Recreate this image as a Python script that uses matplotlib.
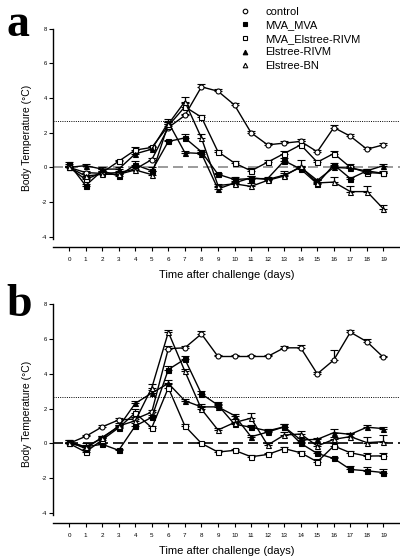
import matplotlib
matplotlib.use("Agg")
import matplotlib.pyplot as plt
from matplotlib.lines import Line2D

days = list(range(20))
day_labels = [str(d) for d in days]
yticks = [-4, -2, 0, 2, 4, 6, 8]
threshold = 2.65

series_names = ["control", "MVA_MVA", "MVA_Elstree-RIVM", "Elstree-RIVM", "Elstree-BN"]

# Panel a
a_control = [0.0, -0.3, -0.35, -0.3, -0.1, 0.45, 2.3, 3.0, 4.65, 4.4, 3.6, 2.0, 1.3, 1.4, 1.5, 0.9, 2.3, 1.8, 1.05, 1.3]
a_mva_mva = [0.2, -1.05, -0.2, -0.5, 0.15, -0.2, 1.5, 1.7, 0.9, -0.4, -0.7, -0.65, -0.65, 0.38, -0.1, -0.95, 0.15, -0.65, -0.2, -0.35]
a_mva_elstree = [0.0, -0.7, -0.3, 0.35, 1.0, 1.15, 2.4, 3.5, 2.9, 0.9, 0.25, -0.2, 0.3, 0.8, 1.3, 0.3, 0.8, 0.0, -0.3, -0.35]
a_elstree_rivm = [0.0, 0.1, -0.1, -0.1, 0.78, 1.05, 2.6, 0.85, 0.8, -1.25, -0.9, -0.6, -0.7, -0.45, 0.0, -0.75, 0.0, -0.05, -0.2, 0.1]
a_elstree_bn = [0.0, -0.5, -0.4, -0.4, -0.15, -0.42, 2.5, 3.8, 1.7, -1.05, -0.95, -1.1, -0.75, -0.5, 0.05, -0.9, -0.85, -1.4, -1.4, -2.4]

a_control_err = [0.05, 0.1, 0.1, 0.1, 0.1, 0.1, 0.2, 0.1, 0.15, 0.1, 0.1, 0.1, 0.1, 0.1, 0.15, 0.1, 0.15, 0.1, 0.1, 0.1]
a_mva_mva_err = [0.1, 0.1, 0.1, 0.1, 0.2, 0.2, 0.1, 0.2, 0.1, 0.1, 0.15, 0.15, 0.1, 0.15, 0.1, 0.1, 0.1, 0.1, 0.1, 0.15]
a_mva_elstree_err = [0.05, 0.1, 0.1, 0.1, 0.15, 0.1, 0.2, 0.2, 0.1, 0.1, 0.1, 0.15, 0.1, 0.15, 0.2, 0.1, 0.15, 0.2, 0.1, 0.1]
a_elstree_rivm_err = [0.1, 0.1, 0.1, 0.1, 0.1, 0.1, 0.2, 0.1, 0.1, 0.1, 0.1, 0.1, 0.1, 0.1, 0.1, 0.1, 0.1, 0.1, 0.1, 0.1]
a_elstree_bn_err = [0.05, 0.2, 0.15, 0.15, 0.15, 0.2, 0.2, 0.25, 0.2, 0.1, 0.1, 0.2, 0.1, 0.3, 0.4, 0.15, 0.3, 0.3, 0.3, 0.25]

# Panel b
b_control = [0.0, 0.4, 0.95, 1.35, 1.4, 1.8, 5.45, 5.5, 6.3, 5.0, 5.0, 5.0, 5.0, 5.5, 5.5, 4.0, 4.8, 6.4, 5.85, 4.95]
b_mva_mva = [0.1, -0.2, -0.05, -0.4, 1.0, 1.5, 4.25, 4.85, 2.85, 2.2, 1.1, 0.93, 0.72, 0.95, 0.0, -0.58, -0.87, -1.5, -1.58, -1.68]
b_mva_elstree = [0.0, -0.5, 0.2, 0.9, 1.75, 0.9, 3.2, 1.0, 0.0, -0.5, -0.4, -0.77, -0.64, -0.3, -0.54, -1.06, -0.15, -0.54, -0.73, -0.72]
b_elstree_rivm = [0.1, -0.3, 0.35, 0.95, 2.3, 2.9, 3.45, 2.45, 2.1, 2.1, 1.6, 0.38, 0.65, 0.95, 0.2, 0.23, 0.62, 0.52, 0.93, 0.85]
b_elstree_bn = [0.0, -0.2, 0.3, 1.0, 1.3, 3.2, 6.4, 4.15, 1.97, 0.77, 1.2, 1.45, -0.1, 0.48, 0.54, -0.15, 0.23, 0.39, 0.04, 0.1]

b_control_err = [0.05, 0.1, 0.1, 0.1, 0.1, 0.1, 0.15, 0.1, 0.15, 0.1, 0.1, 0.1, 0.1, 0.1, 0.15, 0.1, 0.6, 0.15, 0.15, 0.1]
b_mva_mva_err = [0.1, 0.1, 0.1, 0.1, 0.15, 0.15, 0.2, 0.2, 0.15, 0.2, 0.15, 0.1, 0.1, 0.15, 0.1, 0.15, 0.1, 0.2, 0.2, 0.2]
b_mva_elstree_err = [0.05, 0.1, 0.1, 0.15, 0.2, 0.1, 0.2, 0.1, 0.1, 0.1, 0.1, 0.1, 0.1, 0.1, 0.1, 0.15, 0.2, 0.1, 0.15, 0.15]
b_elstree_rivm_err = [0.1, 0.1, 0.1, 0.1, 0.15, 0.15, 0.2, 0.1, 0.15, 0.15, 0.1, 0.1, 0.1, 0.15, 0.1, 0.1, 0.2, 0.1, 0.15, 0.1]
b_elstree_bn_err = [0.05, 0.2, 0.1, 0.15, 0.2, 0.2, 0.15, 0.15, 0.2, 0.1, 0.2, 0.3, 0.1, 0.2, 0.2, 0.15, 0.15, 0.2, 0.3, 0.4]

styles = [
    dict(marker="o", mfc="white"),
    dict(marker="s", mfc="black"),
    dict(marker="s", mfc="white"),
    dict(marker="^", mfc="black"),
    dict(marker="^", mfc="white"),
]

plt.rcParams["font.family"] = ["Liberation Sans", "DejaVu Sans"]

fig = plt.figure(figsize=(4.0, 5.56), dpi=100)

def draw_panel(rect, data, errs, zero_color, letter, letter_y):
    ax = fig.add_axes(rect)
    for vals, err, st in zip(data, errs, styles):
        ax.errorbar(days, vals, yerr=[[0] * len(err), err], color="black",
                    lw=1.0, ecolor="black", elinewidth=0.9, capsize=3.0, capthick=0.9,
                    marker=st["marker"], mfc=st["mfc"], mec="black", ms=3.6, mew=0.8,
                    zorder=3)
    ax.axhline(0, color=zero_color, lw=1.2, ls=(0, (6, 3)), zorder=2)
    ax.axhline(threshold, color="black", lw=0.7, ls=(0, (1, 1.3)), zorder=1)
    ax.set_xlim(-0.97, 20.0)
    ax.set_ylim(-4.6, 8.05)
    ax.set_yticks(yticks)
    ax.set_yticklabels([str(t) for t in yticks], fontsize=4.2)
    ax.set_xticks(days)
    ax.set_xticklabels(day_labels, fontsize=4.5)
    for s in ["top", "right"]:
        ax.spines[s].set_visible(False)
    ax.spines["left"].set_bounds(-4.15, 8)
    ax.spines["left"].set_linewidth(1.0)
    ax.spines["bottom"].set_linewidth(1.0)
    ax.tick_params(axis="y", length=3, width=0.8, pad=1.5)
    ax.tick_params(axis="x", length=3, width=0.8, pad=4)
    ax.set_ylabel("Body Temperature (\u00b0C)", fontsize=7.5, labelpad=7)
    ax.set_xlabel("Time after challenge (days)", fontsize=8, labelpad=6)
    fig.text(0.015, letter_y, letter, fontsize=33, fontweight="bold",
             family=["Liberation Serif", "DejaVu Serif"], va="top", ha="left")
    return ax

rect_a = [0.1325, 1 - 247 / 556, 0.8675, (247 - 28) / 556]
rect_b = [0.1325, 1 - 523.3 / 556, 0.8675, (523.3 - 303.5) / 556]

ax_a = draw_panel(rect_a,
                  [a_control, a_mva_mva, a_mva_elstree, a_elstree_rivm, a_elstree_bn],
                  [a_control_err, a_mva_mva_err, a_mva_elstree_err, a_elstree_rivm_err, a_elstree_bn_err],
                  "#8a8a8a", "a", 1 - 4 / 556)
ax_b = draw_panel(rect_b,
                  [b_control, b_mva_mva, b_mva_elstree, b_elstree_rivm, b_elstree_bn],
                  [b_control_err, b_mva_mva_err, b_mva_elstree_err, b_elstree_rivm_err, b_elstree_bn_err],
                  "black", "b", 1 - 284 / 556)

handles = [Line2D([], [], ls="none", marker=st["marker"], mfc=st["mfc"], mec="black",
                  ms=3.3, mew=0.8, color="black") for st in styles]
fig.legend(handles, series_names, loc="upper left", bbox_to_anchor=(232 / 400, 1 + 1 / 556),
           frameon=False, fontsize=8, handlelength=1.0, handletextpad=1.3,
           labelspacing=0.32, borderpad=0.2)

fig.savefig("out.png", dpi=100)
